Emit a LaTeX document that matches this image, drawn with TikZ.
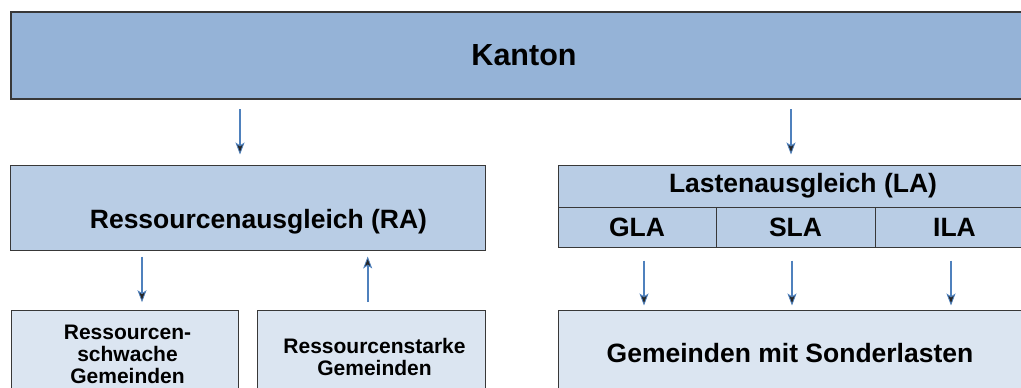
\documentclass[tikz,border=0pt]{standalone}
\usepackage{fontspec}
\setmainfont{Liberation Sans}
\usepackage{tikz}
\usetikzlibrary{arrows.meta}
\definecolor{kantonblue}{HTML}{95B3D7}
\definecolor{ausgleichblue}{HTML}{B9CDE5}
\definecolor{gemeindeblue}{HTML}{DBE5F1}
\definecolor{arrowblue}{HTML}{4F81BD}
\definecolor{boxline}{HTML}{383838}
\newcommand{\kantonsize}{\fontsize{30.5}{36}\selectfont}
\newcommand{\titlesize}{\fontsize{26.5}{31}\selectfont}
\newcommand{\gemsize}{\fontsize{21}{22}\selectfont}
\tikzstyle{box} = [draw=boxline, line width=1pt, rectangle, inner sep=0pt]
\tikzstyle{boxtext} = [inner sep=0pt, font=\bfseries\gemsize, align=center]
\tikzstyle{arrow} = [arrowblue, line width=2.4pt, -{Stealth[length=12pt,width=9pt,inset=3pt,fill=black!85,line width=0.8pt]}]

\begin{document}
\begin{tikzpicture}[x=1pt,y=-1pt]
		\useasboundingbox (0,0) rectangle (1021,388);
		\clip (0,0) rectangle (1021,388);
		\node[box, fill=kantonblue, line width=1.5pt, minimum width=1026, minimum height=87, font=\bfseries\kantonsize] (kanton) at (524,55.5) {Kanton};
		\node[box, fill=ausgleichblue, minimum width=475, minimum height=85] (ra) at (247.5,207.5) {};
		\node[font=\bfseries\titlesize, anchor=base] (ratext) at (258.5,228) {Ressourcenausgleich (RA)};
		\node[box, fill=ausgleichblue, minimum width=490, minimum height=42, font=\bfseries\titlesize] (la) at (803,186) {Lastenausgleich (LA)};
		\node[box, fill=ausgleichblue, minimum width=158, minimum height=40, font=\bfseries\titlesize] (gla) at (637,227) {GLA};
		\node[box, fill=ausgleichblue, minimum width=159, minimum height=40, font=\bfseries\titlesize] (sla) at (795.5,227) {SLA};
		\node[box, fill=ausgleichblue, minimum width=159, minimum height=40, font=\bfseries\titlesize] (ila) at (954.5,227) {ILA};
		\node[box, fill=gemeindeblue, minimum width=227, minimum height=100] (rs) at (124.5,360) {};
		\node[boxtext, anchor=north] (rstext) at (127.5,325) {Ressourcen-\\schwache\\Gemeinden};
		\node[box, fill=gemeindeblue, minimum width=228, minimum height=100] (rstark) at (371,360) {};
		\node[boxtext, anchor=north] (rstarktext) at (374.5,337.7) {Ressourcenstarke\\Gemeinden};
		\node[box, fill=gemeindeblue, minimum width=490, minimum height=100] (sonder) at (803,360) {};
		\node[font=\bfseries\titlesize, anchor=base] (sondertext) at (790,362) {Gemeinden mit Sonderlasten};
		\draw [arrow, shorten <=9.7pt, shorten >=10pt] ([xshift=-7.5pt]ra.north |- kanton.south) -- ([xshift=-7.5pt]ra.north);
		\draw [arrow, shorten <=9.7pt, shorten >=10pt] ([xshift=-12pt]la.north |- kanton.south) -- ([xshift=-12pt]la.north);
		\draw [arrow, shorten <=6pt, shorten >=7.3pt] ([xshift=17.5pt]rs.north |- ra.south) -- ([xshift=17.5pt]rs.north);
		\draw [arrow, shorten <=7.3pt, shorten >=6pt] ([xshift=-3.3pt]rstark.north) -- ([xshift=-3.3pt]rstark.north |- ra.south);
		\draw [arrow, shorten <=13pt, shorten >=4pt] ([xshift=7pt]gla.south) -- ([xshift=7pt]gla.south |- sonder.north);
		\draw [arrow, shorten <=13pt, shorten >=4pt] ([xshift=-3.5pt]sla.south) -- ([xshift=-3.5pt]sla.south |- sonder.north);
		\draw [arrow, shorten <=13pt, shorten >=4pt] ([xshift=-3.5pt]ila.south) -- ([xshift=-3.5pt]ila.south |- sonder.north);
	\end{tikzpicture}
\end{document}
